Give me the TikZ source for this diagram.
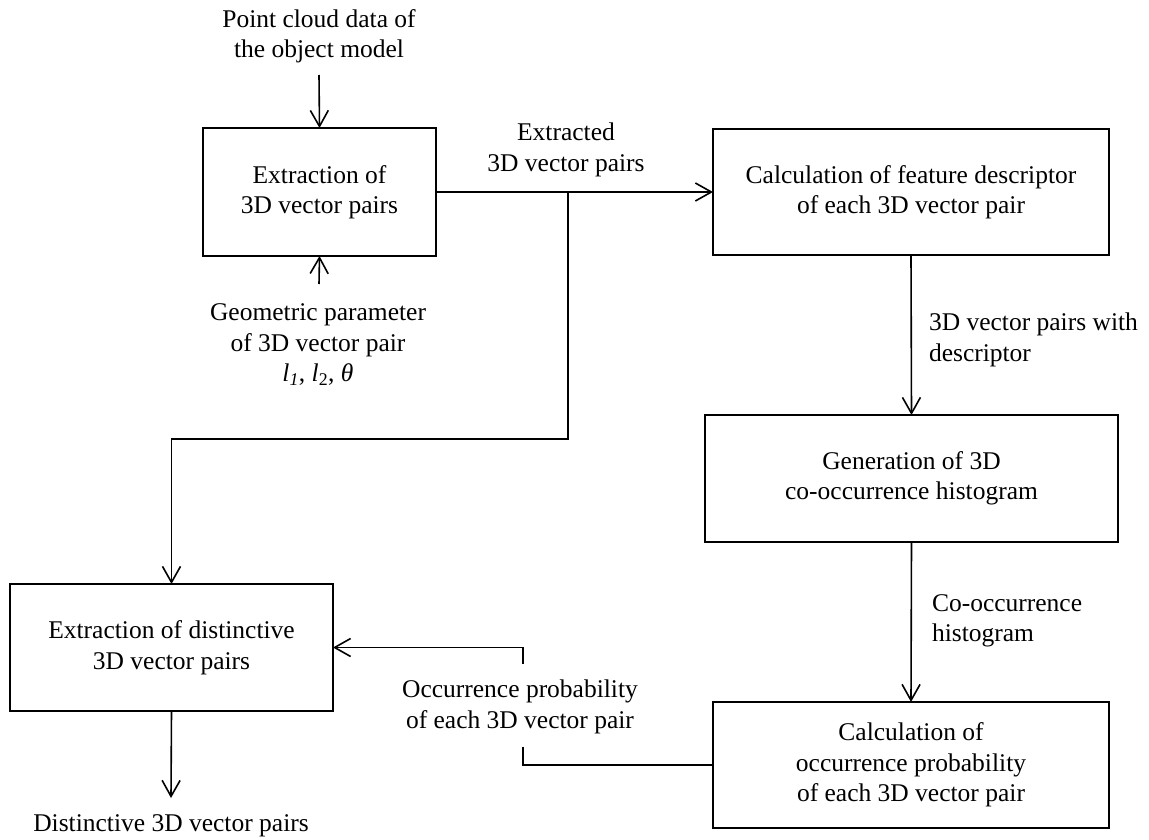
\documentclass[tikz,border=0pt]{standalone}
\usepackage{fontspec}
\setmainfont{Liberation Serif}
\usetikzlibrary{arrows.meta}
\begin{document}
\begin{tikzpicture}[x=1pt,y=-1pt,
  font=\fontsize{25.5}{30.5}\selectfont,
  every node/.style={inner sep=0pt,outer sep=0pt},
  stepbox/.style={draw,line width=1.6pt,rectangle,align=center},
  note/.style={align=center},
  link/.style={line width=1.6pt},
  arr/.style={link,-{Straight Barb[length=16pt,width=18pt,line width=1.6pt]}}]
\useasboundingbox (0,0) rectangle (1149,840);

% process boxes
\node[stepbox,minimum width=233,minimum height=128] (A) at (319.5,192)
  {Extraction of\\3D vector pairs};
\node[stepbox,minimum width=396,minimum height=126] (B) at (911,192)
  {Calculation of feature descriptor\\of each 3D vector pair};
\node[stepbox,minimum width=413,minimum height=127] (C) at (911.5,478.5)
  {Generation of 3D\\co-occurrence histogram};
\node[stepbox,minimum width=396,minimum height=126] (D) at (911,765)
  {Calculation of\\occurrence probability\\of each 3D vector pair};
\node[stepbox,minimum width=323,minimum height=127] (E) at (171.5,647.5)
  {Extraction of distinctive\\3D vector pairs};

% inputs, outputs and edge labels
\node[note] (pc) at (319,36) {Point cloud data of\\the object model};
\node[note] (gp) at (318,345) {Geometric parameter\\of 3D vector pair\\\textit{l\textsubscript{1}}, \textit{l}\textsubscript{2}, \textit{θ}};
\node[note] (ex) at (566,150) {Extracted\\3D vector pairs};
\node[note,align=left,anchor=west] (wd) at (929,340) {3D vector pairs with\\descriptor};
\node[note,align=left,anchor=west] (co) at (932,621) {Co-occurrence\\histogram};
\node[note] (op) at (520,707) {Occurrence probability\\of each 3D vector pair};
\node[note] (dv) at (171,826) {Distinctive 3D vector pairs};

% free ends and bends
\coordinate (pcend) at (319,75);
\coordinate (gpend) at (319,284);
\coordinate (j) at (568,192);
\coordinate (k) at (568,439);
\coordinate (opin) at (523,747);
\coordinate (opout) at (523,664);
\coordinate (dvend) at (171,798);

% connectors
\draw[arr] (pcend) -- (A.north);
\draw[arr] (gpend) -- (A.south);
\draw[arr] (A.east) -- (B.west);
\draw[arr] (j) -- (k) -| (E.north);
\draw[arr] (B.south) -- (C.north);
\draw[arr] (C.south) -- (D.north);
\draw[link] (D.west) -| (opin);
\draw[arr] (opout) |- (E.east);
\draw[arr] (E.south) -- (dvend);
\end{tikzpicture}
\end{document}
